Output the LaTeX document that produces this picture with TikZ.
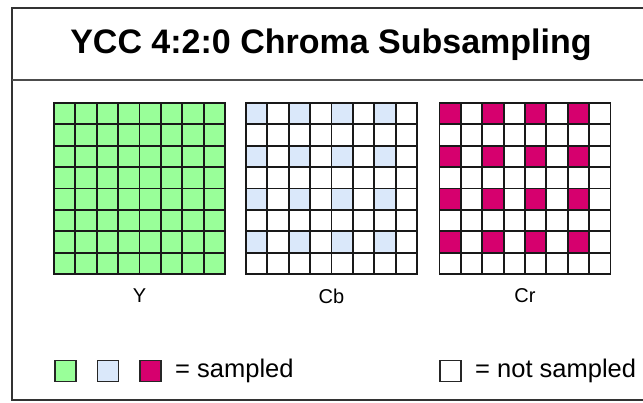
\documentclass[tikz,border=0pt]{standalone}
\usepackage{fontspec}
\setmainfont{Liberation Sans}
\definecolor{ygreen}{RGB}{153,255,153}
\definecolor{cbblue}{RGB}{218,232,250}
\definecolor{crmag}{RGB}{214,0,110}
\tikzset{
  gridline/.style={line width=1.8pt, black!90, line cap=rect},
  frameline/.style={line width=2pt, black!80},
  legbox/.style={draw=black!85, line width=1.8pt, minimum size=21pt, inner sep=0pt},
  lbl/.style={font=\fontsize{20}{24}\selectfont, inner sep=0pt},
  legtxt/.style={font=\fontsize{25.5}{30}\selectfont, inner sep=0pt, anchor=west}
}
\newcommand{\cgrid}[1]{%
  \foreach \i in {0,...,8} {
    \draw[gridline] ({#1+\i*21.375},103) -- ({#1+\i*21.375},274);
    \draw[gridline] (#1,{103+\i*21.375}) -- ({#1+171},{103+\i*21.375});
  }%
}
\begin{document}
\begin{tikzpicture}[x=1pt,y=-1pt]
\useasboundingbox (0,0) rectangle (643,402);
% frame
\draw[frameline] (12,8) rectangle (680,400);
\draw[line width=1.5pt, black!70] (12,80) -- (680,80);
\node[font=\bfseries\fontsize{34}{40}\selectfont, inner sep=0pt] (title) at (331,45) {YCC 4:2:0 Chroma Subsampling};
% Y grid
\fill[ygreen] (54,103) rectangle (225,274);
\cgrid{54}
% Cb grid
\foreach \r in {0,2,4,6} \foreach \c in {0,2,4,6}
  \fill[cbblue] ({246+\c*21.375},{103+\r*21.375}) rectangle ++(21.375,21.375);
\cgrid{246}
% Cr grid
\foreach \r in {0,2,4,6} \foreach \c in {0,2,4,6}
  \fill[crmag] ({439.5+\c*21.375},{103+\r*21.375}) rectangle ++(21.375,21.375);
\cgrid{439.5}
% labels
\node[lbl] (ylab) at (139.5,296) {Y};
\node[lbl] (cblab) at (331.5,296) {Cb};
\node[lbl] (crlab) at (525,296) {Cr};
% legend
\node[legbox, fill=ygreen] (lg) at (65.5,371) {};
\node[legbox, fill=cbblue] (lb) at (108,371) {};
\node[legbox, fill=crmag] (lm) at (150.5,371) {};
\node[legtxt] (ls) at (175,371) {= sampled};
\node[legbox, fill=white] (lw) at (450.5,371) {};
\node[legtxt] (lns) at (475,371) {= not sampled};
\end{tikzpicture}
\end{document}
